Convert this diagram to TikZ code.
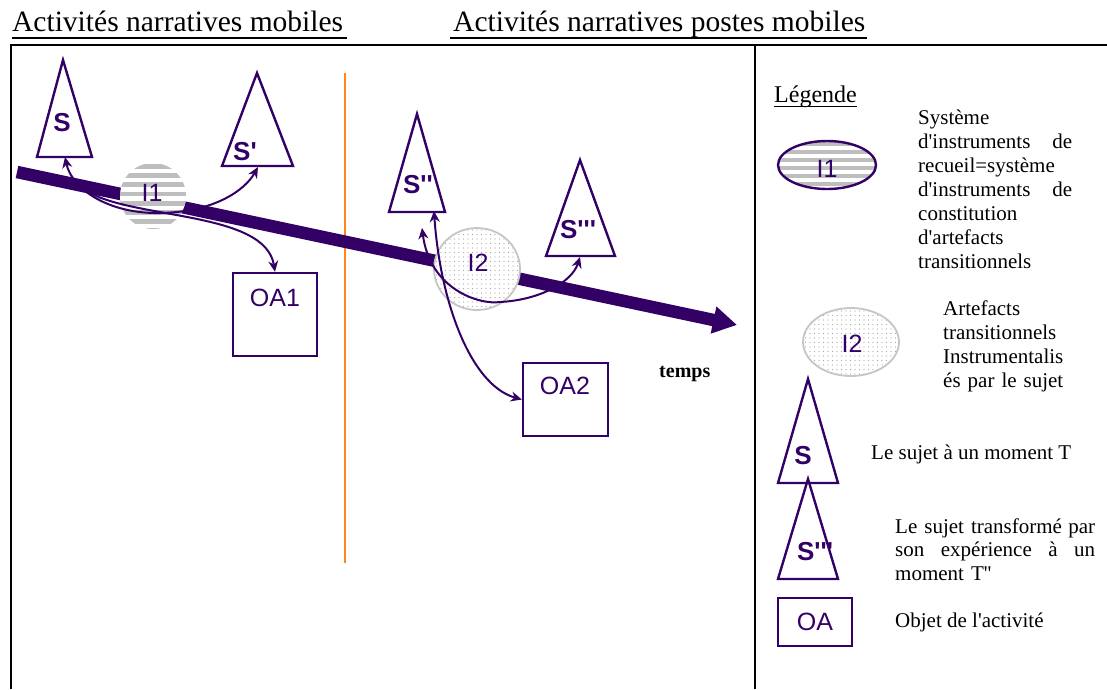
\documentclass[tikz,border=0pt]{standalone}
\usepackage{fontspec}
\setmainfont{Liberation Serif}[Ligatures=TeXOff]
\newfontfamily\arialf{Liberation Sans}[Ligatures=TeXOff]
\usetikzlibrary{arrows.meta,patterns.meta,shapes.geometric}
\definecolor{purp}{RGB}{51,0,102}
\definecolor{orng}{RGB}{255,133,30}
\definecolor{stripe}{RGB}{190,190,190}
\newcommand\fullline[2]{\leavevmode\hbox to #1{#2}}
\tikzset{
  ttl/.style={font=\fontsize{29.5}{30}\selectfont, inner sep=0, anchor=base west},
  tlab/.style={font=\arialf\bfseries\fontsize{26}{26}\selectfont, text=purp, inner sep=0},
  ilab/.style={font=\arialf\fontsize{25}{25}\selectfont, text=purp, inner sep=0},
  tri/.style={draw=purp, line width=2.4pt, line join=miter},
  oabox/.style={draw=purp, line width=2.4pt, inner sep=0},
  conn/.style={purp, line width=2pt, {Stealth[length=11pt,width=10pt]}-{Stealth[length=11pt,width=10pt]}},
  conn1/.style={purp, line width=2pt, -{Stealth[length=11pt,width=10pt]}},
  legtxt/.style={font=\fontsize{21}{24}\selectfont, inner sep=0, anchor=base west, align=left},
  frame/.style={black, line width=1.8pt},
  striped/.style={fill=white, path picture={
      \foreach \k in {0,...,9}
        \fill[stripe] ([yshift={-1pt-\k*#1}]path picture bounding box.north west) rectangle ++(120pt,{-0.52*#1});}},
  dotted fill/.style={preaction={fill=white}, pattern={Dots[distance=4.5pt,radius=0.65pt]}, pattern color=gray!70},
}
\begin{document}
\begin{tikzpicture}[x=1pt,y=-1pt]
\useasboundingbox (0,0) rectangle (1107,689);
% titles
\node[ttl] (t1) at (12,31) {Activités narratives mobiles};
\draw[line width=1.2pt] (12,38) -- (347,38);
\node[ttl] (t2) at (453,31) {Activités narratives postes mobiles};
\draw[line width=1.2pt] (450,38) -- (867,38);
% frame
\draw[frame] (10,45) -- (1107,45);
\draw[frame] (11,45) -- (11,689);
\draw[frame] (755,45) -- (755,689);
% orange separator
\draw[orng, line width=2.5pt] (345,73) -- (345,563);
% time arrow
\coordinate (A0) at (17,172);
\coordinate (A1) at (737,325);
\draw[purp, line width=12.5pt, -{Triangle[length=24pt,width=26pt]}] (A0) -- (A1);
\node[font=\bfseries\fontsize{20}{20}\selectfont, inner sep=0, anchor=base west] (temps) at (659,377) {temps};
% I1 and I2
\node[circle, minimum size=66pt, inner sep=0, striped=9.2pt] (I1) at (153,196) {};
\node[ilab] (I1t) at (152,193) {I1};
\node[ellipse, draw=gray!45, line width=1.8pt, minimum width=86pt, minimum height=82pt, inner sep=0, dotted fill] (I2) at (477,269) {};
\node[ilab] (I2t) at (478,263) {I2};
% OA boxes
\node[oabox, minimum width=84pt, minimum height=83pt] (OA1) at (275,314.5) {};
\node[ilab] (OA1t) at (275,298) {OA1};
\node[oabox, minimum width=85pt, minimum height=73pt] (OA2) at (565.5,399.5) {};
\node[ilab] (OA2t) at (565,386) {OA2};
% triangle base points
\coordinate (Sb) at (65,157);
\coordinate (S1b) at (258,167);
\coordinate (S2b) at (434,211);
\coordinate (S2c) at (422,228);
\coordinate (S3b) at (580,257);
\coordinate (J1) at (85,190);
% connectors
\draw[conn] (Sb) .. controls (72,190) and (110,214) .. (160,213) .. controls (215,212) and (245,190) .. (S1b);
\draw[conn1] (J1) .. controls (130,220) and (265,210) .. (OA1.north);
\draw[conn] (S2b) .. controls (440,300) and (470,385) .. (OA2.west);
\draw[conn] (S2c) .. controls (430,290) and (480,305) .. (500,302) .. controls (540,300) and (572,282) .. (S3b);
% triangles
\draw[tri] (63,60) -- (92,157) -- (37,157) -- cycle;
\node[tlab] (S) at (62,123) {S};
\draw[tri] (257,73) -- (293,166) -- (222,166) -- cycle;
\node[tlab] (S1) at (245,152) {S'};
\draw[tri] (417,114) -- (445,212) -- (389,212) -- cycle;
\node[tlab] (S2) at (418,185) {S''};
\draw[tri] (580,160) -- (615,256) -- (546,256) -- cycle;
\node[tlab] (S3) at (578,230) {S'''};
% legend
\node[font=\fontsize{24}{24}\selectfont, inner sep=0, anchor=base west] (leg) at (774,102) {Légende};
\draw[line width=1pt] (774,106) -- (857,106);
\node[ellipse, draw=purp, line width=2.4pt, minimum width=98pt, minimum height=48pt, inner sep=0, striped=8pt] (LI1) at (827,165) {};
\node[ilab] (LI1t) at (827,169) {I1};
\node[legtxt, text width=154pt] (LT1) at (918,124) {Système\\
\fullline{154pt}{d'instruments\hfill de}\\
recueil=système\\
\fullline{154pt}{d'instruments\hfill de}\\
constitution\\
d'artefacts\\
transitionnels};
\node[ellipse, draw=gray!45, line width=1.8pt, minimum width=96pt, minimum height=68pt, inner sep=0, dotted fill] (LI2) at (851,342) {};
\node[ilab] (LI2t) at (852,344) {I2};
\node[legtxt, text width=150pt, font=\fontsize{21}{24.3}\selectfont] (LT2) at (943,315) {Artefacts\\ transitionnels\\ Instrumentalis\\ és par le sujet};
\draw[tri] (808,379) -- (838,483) -- (778,483) -- cycle;
\node[tlab] (LS) at (803,456) {S};
\node[legtxt] (LT3) at (871,459) {Le sujet à un moment T};
\draw[tri] (808,479) -- (838,579) -- (778,579) -- cycle;
\node[tlab] (LS3) at (815,552) {S'''};
\node[legtxt, text width=200pt, font=\fontsize{21}{23.5}\selectfont] (LT4) at (895,533) {\fullline{200pt}{Le sujet transformé\hfill par}\\
\fullline{200pt}{son\hfill expérience\hfill à\hfill un}\\
moment T''};
\node[oabox, minimum width=74pt, minimum height=48pt] (LOA) at (815,622) {};
\node[ilab] (LOAt) at (815,622) {OA};
\node[legtxt] (LT5) at (895,627) {Objet de l'activité};
\end{tikzpicture}
\end{document}
